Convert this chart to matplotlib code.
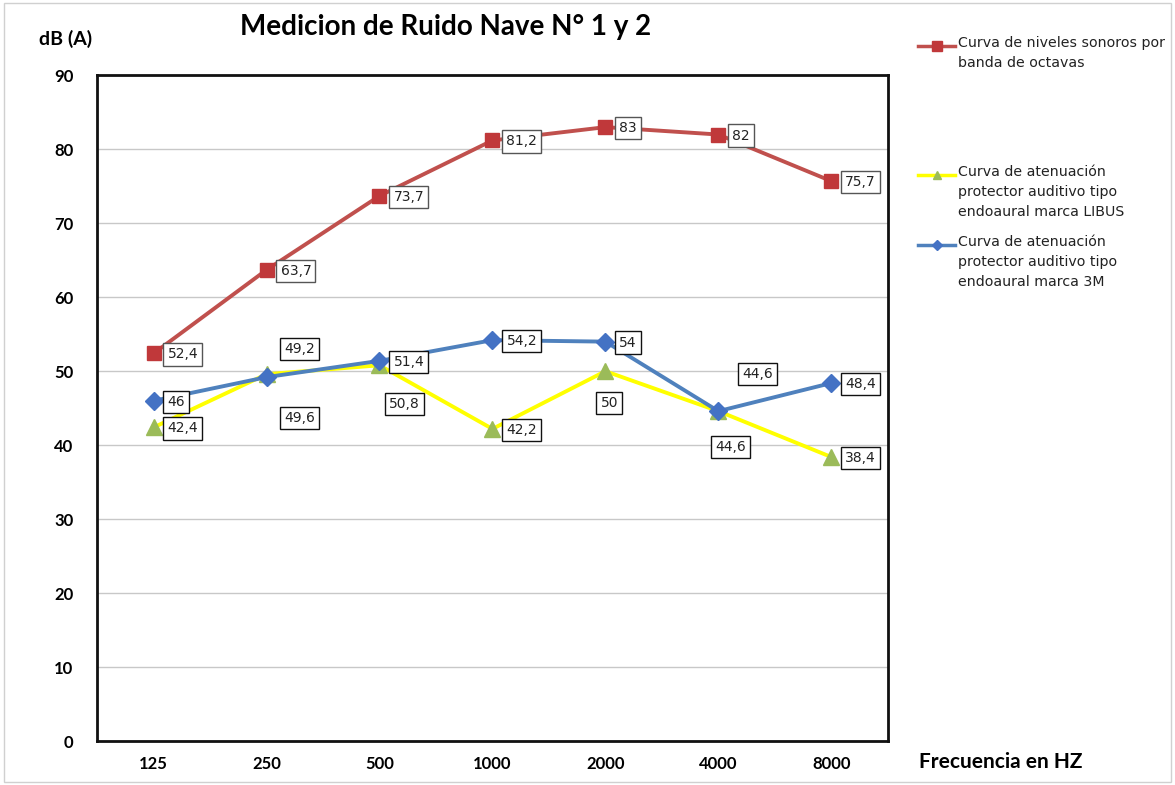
import matplotlib.pyplot as plt
from matplotlib.lines import Line2D
from matplotlib.patches import Rectangle

# Data
freqs = ['125', '250', '500', '1000', '2000', '4000', '8000']
niveles = [52.4, 63.7, 73.7, 81.2, 83, 82, 75.7]
libus = [42.4, 49.6, 50.8, 42.2, 50, 44.6, 38.4]
marca_3m = [46, 49.2, 51.4, 54.2, 54, 44.6, 48.4]

labels = ['Curva de niveles sonoros por\nbanda de octavas',
          'Curva de atenuación\nprotector auditivo tipo\nendoaural marca LIBUS',
          'Curva de atenuación\nprotector auditivo tipo\nendoaural marca 3M']

fig = plt.figure(figsize=(11.75, 7.85), dpi=100)
fig.patches.append(Rectangle((0.003, 0.004), 0.994, 0.992, transform=fig.transFigure,
                             fill=False, edgecolor='#d0d0d0', lw=1))
ax = fig.add_axes([0.0826, 0.056, 0.673, 0.848])

x = list(range(len(freqs)))
red_c, red_m = '#C0504D', '#C0383A'
yel_c, yel_m = '#FFFF00', '#9BBB59'
blu_c, blu_m = '#4F81BD', '#4472C4'

ax.plot(x, niveles, color=red_c, lw=2.8, marker='s', ms=10, mfc=red_m, mec=red_m, zorder=3)
ax.plot(x, libus, color=yel_c, lw=2.8, marker='^', ms=11, mfc=yel_m, mec=yel_m, zorder=3)
ax.plot(x, marca_3m, color=blu_c, lw=2.8, marker='D', ms=9, mfc=blu_m, mec=blu_m, zorder=4)

# label offsets in pixels (dx, dy); right -> label to the right of the point
right = (14, -1)
off_red = [right] * 7
off_yel = [right, (33, -44), (25, -39), right, (4, -32), (12, -36), right]
off_blu = [right, (33, 28), right, right, right, (39, 37), right]

def add_labels(vals, offs, edge):
    for xi, v, o in zip(x, vals, offs):
        txt = f'{v:g}'.replace('.', ',')
        ha = 'left' if o == right else 'center'
        ax.annotate(txt, (xi, v), xytext=o, textcoords='offset pixels',
                    ha=ha, va='center', fontsize=10, family='DejaVu Sans', color='#222222',
                    bbox=dict(boxstyle='square,pad=0.3', fc='white', ec=edge, lw=1),
                    zorder=5)

add_labels(niveles, off_red, '#555555')
add_labels(marca_3m, off_blu, '#111111')
add_labels(libus, off_yel, '#111111')

ax.set_xlim(-0.5, 6.5)
ax.set_ylim(0, 90)
ax.set_yticks(range(0, 91, 10))
ax.set_xticks(x)
ax.set_xticklabels(freqs)
ax.yaxis.grid(True, color='#c8c8c8', lw=1)
ax.set_axisbelow(True)
ax.tick_params(axis='both', length=0, labelsize=12)
ax.tick_params(axis='y', pad=17)
ax.tick_params(axis='x', pad=11)
for lab in ax.get_xticklabels() + ax.get_yticklabels():
    lab.set_fontweight('bold')
    lab.set_family('Lato')
for s in ax.spines.values():
    s.set_linewidth(2)
    s.set_color('#111111')

fig.text(0.379, 0.966, 'Medicion de Ruido Nave N° 1 y 2', ha='center', va='center',
         fontsize=20, fontweight='bold', family='Lato')
fig.text(0.056, 0.951, 'dB (A)', ha='center', va='center', fontsize=14,
         fontweight='bold', family='Lato')
fig.text(0.852, 0.029, 'Frecuencia en HZ', ha='center', va='center', fontsize=15,
         fontweight='bold', family='Lato')

# legend drawn on the figure
leg_y = [46, 175, 245]
handles = [('s', red_c, red_m, 7), ('^', yel_c, yel_m, 6), ('D', blu_c, blu_m, 5)]
for ypx, lab, (mk, lc, mc, ms) in zip(leg_y, labels, handles):
    yf = 1 - ypx / 785
    fig.add_artist(Line2D([918 / 1175, 955 / 1175], [yf, yf], color=lc, lw=2.5,
                          transform=fig.transFigure))
    fig.add_artist(Line2D([936.5 / 1175], [yf], marker=mk, ms=ms, mfc=mc, mec=mc,
                          transform=fig.transFigure))
    fig.text(958 / 1175, yf + 10 / 785, lab, ha='left', va='top', fontsize=10.2,
             family='DejaVu Sans', color='#222222', linespacing=1.55)

fig.savefig('out.png', dpi=100)
